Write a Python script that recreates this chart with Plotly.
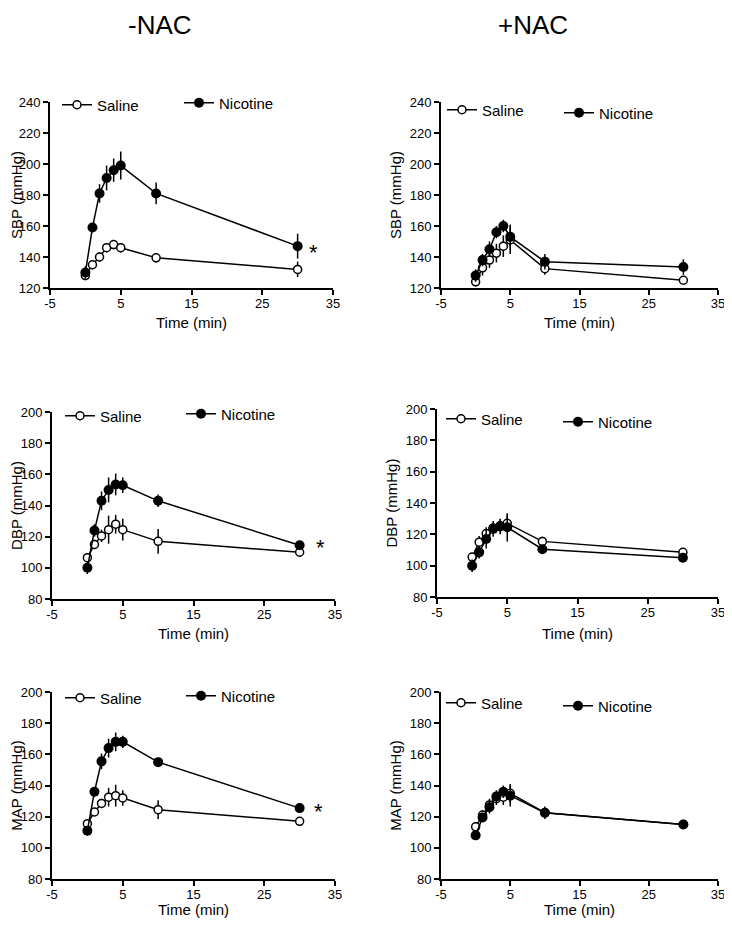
import plotly.graph_objects as go
from plotly.subplots import make_subplots

# time points (min)
time = [0, 1, 2, 3, 4, 5, 10, 30]
x_ticks = [-5, 5, 15, 25, 35]
x_ticklabels = ["-5", "5", "15", "25", "35"]

# -NAC
sbp_sal = [128, 135, 140, 146, 148, 146, 139.5, 132]
sbp_sal_err = [3, 3, 3, 3, 3, 3, 3, 5]
sbp_nic = [130, 159, 181, 191, 196, 199, 181, 147]
sbp_nic_err = [4, 3, 6, 8, 7.5, 9, 7, 8]

dbp_sal = [106.5, 115, 120.5, 124.5, 128, 124.5, 117, 110]
dbp_sal_err = [3, 3, 4, 9, 6, 7, 8, 3]
dbp_nic = [100, 124, 143, 150, 153.5, 153, 143, 114.5]
dbp_nic_err = [4, 4, 6, 8, 7, 5, 4, 2]

map_sal = [115.5, 123, 128.5, 132.5, 133.5, 132, 124.5, 117]
map_sal_err = [2, 2, 3, 6, 7, 5, 6, 2]
map_nic = [111, 136, 155.5, 164, 168, 168, 155, 125.5]
map_nic_err = [3, 3, 5, 6, 6, 4, 3, 2]

# +NAC
sbp_sal_n = [124, 133, 138, 142.5, 147, 151, 132.5, 125]
sbp_sal_n_err = [3, 5, 5, 6, 7, 9, 4, 2]
sbp_nic_n = [128, 138, 145, 156, 160, 153, 137, 133.5]
sbp_nic_n_err = [4, 4, 5, 4, 4, 8, 5, 5]

dbp_sal_n = [105.5, 115, 120.5, 124, 125.5, 127, 115.5, 108.5]
dbp_sal_n_err = [2, 4, 4, 3, 4, 5, 3, 2]
dbp_nic_n = [100, 108.5, 117, 123.5, 125, 124.5, 110.5, 105]
dbp_nic_n_err = [4, 4, 6, 5, 5, 9, 2, 2]

map_sal_n = [113.5, 121, 127.5, 131.5, 132.5, 135, 122.5, 115]
map_sal_n_err = [3, 3, 4, 4, 5, 6, 3, 2]
map_nic_n = [108, 119.5, 126, 133, 136, 133.5, 122.5, 115]
map_nic_n_err = [3, 3, 4, 4, 4, 7, 4, 2]

y_titles = ["SBP (mmHg)", "DBP (mmHg)", "MAP (mmHg)"]
y_ranges = [[120, 240], [80, 200], [80, 200]]
x_title = "Time (min)"
col_titles = ["-NAC", "+NAC"]

panels = [
    (sbp_sal, sbp_sal_err, sbp_nic, sbp_nic_err),
    (sbp_sal_n, sbp_sal_n_err, sbp_nic_n, sbp_nic_n_err),
    (dbp_sal, dbp_sal_err, dbp_nic, dbp_nic_err),
    (dbp_sal_n, dbp_sal_n_err, dbp_nic_n, dbp_nic_n_err),
    (map_sal, map_sal_err, map_nic, map_nic_err),
    (map_sal_n, map_sal_n_err, map_nic_n, map_nic_n_err),
]

OFF = 8  # page body margin
W, H = 732 - 2 * OFF, 926 - 2 * OFF  # figure fits the window without scrollbars
FONT = "Arial, Liberation Sans, sans-serif"

# plot areas in screen pixels: (left, right, top, bottom)
boxes = [
    (50, 333, 102, 288), (441, 718, 102, 288),
    (52, 335, 412, 599), (437, 718, 409, 597),
    (52, 335, 692, 879), (441, 718, 692, 879),
]
# screen y of the "Time (min)" label centre per row
x_title_y = [322, 633, 909]
# legend text positions (x of text start, y of text centre) for saline / nicotine
leg_pos = [
    ((97, 105), (219, 103)), ((482, 110), (599, 113)),
    ((100, 416), (221, 414)), ((481, 419), (598, 422)),
    ((100, 698), (221, 696)), ((481, 703), (598, 706)),
]


def px(v):
    return (v - OFF) / W


def py(v):
    return 1 - (v - OFF) / H


fig = make_subplots(rows=3, cols=2)

legend_layout = {}
for i, (sal, sal_e, nic, nic_e) in enumerate(panels):
    row, col = i // 2 + 1, i % 2 + 1
    lg_s = "legend" if i == 0 else f"legend{2 * i + 1}"
    lg_n = f"legend{2 * i + 2}"
    fig.add_trace(go.Scatter(
        x=time, y=sal, mode="lines+markers", name="Saline", legend=lg_s,
        line=dict(color="black", width=1.5),
        marker=dict(symbol="circle", size=8, color="white", line=dict(color="black", width=1.5)),
        error_y=dict(type="data", array=sal_e, color="black", thickness=1.5, width=0),
    ), row=row, col=col)
    fig.add_trace(go.Scatter(
        x=time, y=nic, mode="lines+markers", name="Nicotine", legend=lg_n,
        line=dict(color="black", width=1.5),
        marker=dict(symbol="circle", size=10, color="black"),
        error_y=dict(type="data", array=nic_e, color="black", thickness=1.5, width=0),
    ), row=row, col=col)

    for name, (lx, ly) in ((lg_s, leg_pos[i][0]), (lg_n, leg_pos[i][1])):
        legend_layout[name] = dict(
            x=px(lx - 40), y=py(ly), xanchor="left", yanchor="middle",
            bgcolor="rgba(0,0,0,0)", borderwidth=0,
            font=dict(family=FONT, size=15, color="black"),
            itemclick=False,
        )

    l, r, t, b = boxes[i]
    axis_common = dict(
        showline=True, linecolor="black", linewidth=2, ticks="outside",
        ticklen=5, tickwidth=2, tickcolor="black", showgrid=False, zeroline=False,
        tickfont=dict(family=FONT, size=13, color="black"), automargin=False,
        ticklabeloverflow="allow",
    )
    fig.update_xaxes(
        domain=[px(l), px(r)], range=[-5, 35], tickvals=x_ticks, ticktext=x_ticklabels,
        ticklabelstandoff=-3, **axis_common, row=row, col=col,
    )
    fig.update_yaxes(
        domain=[py(b), py(t)], range=y_ranges[row - 1], dtick=20,
        title=dict(text=y_titles[row - 1], font=dict(family=FONT, size=15, color="black"), standoff=4),
        **axis_common, row=row, col=col,
    )
    fig.add_annotation(x=px((l + r) / 2), y=py(x_title_y[row - 1]), xref="paper", yref="paper",
                       text=x_title, showarrow=False, xanchor="center", yanchor="middle",
                       font=dict(family=FONT, size=15, color="black"))

# significance stars on the -NAC panels
stars = [(1, 32.3, 143), (3, 32.9, 113), (5, 32.6, 123)]
for n, sx_, sy_ in stars:
    sfx = "" if n == 1 else str(n)
    fig.add_annotation(x=sx_, y=sy_, xref=f"x{sfx}", yref=f"y{sfx}", text="*",
                       showarrow=False, font=dict(family=FONT, size=22, color="black"))

for cx, txt in zip([160, 533], col_titles):
    fig.add_annotation(x=px(cx), y=1, xref="paper", yref="paper", text=txt,
                       showarrow=False, xanchor="center", yanchor="top",
                       font=dict(family=FONT, size=26, color="black"))

fig.update_layout(
    width=W, height=H, margin=dict(l=0, r=0, t=0, b=0),
    paper_bgcolor="white", plot_bgcolor="white", showlegend=True,
    **legend_layout,
)

fig.write_html("out.html")
